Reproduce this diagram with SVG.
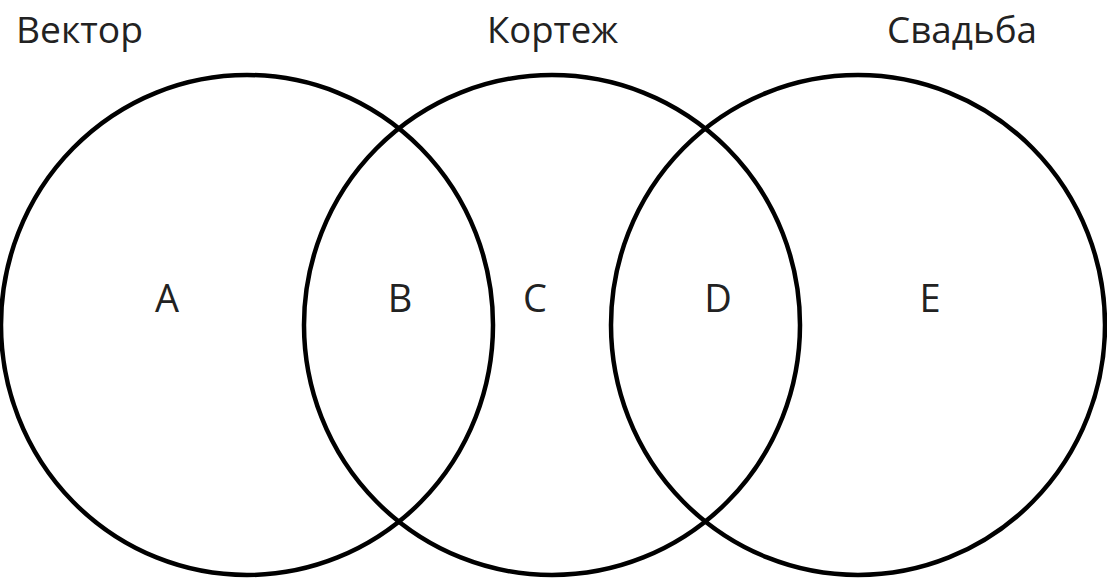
<svg xmlns="http://www.w3.org/2000/svg" width="1107" height="578" viewBox="0 0 1107 578">
  <style>
    .set { fill: none; stroke: #000; stroke-width: 4.5; }
    .title { font-family: "Open Sans", "Liberation Sans", sans-serif; font-size: 37px; fill: #222; }
    .region { font-family: "Open Sans", "Liberation Sans", sans-serif; font-size: 38px; fill: #222; text-anchor: middle; }
  </style>
  <rect width="1107" height="578" fill="#fff"/>

  <!-- three overlapping sets -->
  <g id="set-vector">
    <ellipse class="set" cx="247" cy="325" rx="246" ry="250"/>
    <text class="title" x="16" y="43" textLength="127" lengthAdjust="spacingAndGlyphs">Вектор</text>
  </g>
  <g id="set-kortezh">
    <ellipse class="set" cx="552" cy="325" rx="248" ry="250"/>
    <text class="title" x="487" y="43" textLength="131" lengthAdjust="spacingAndGlyphs">Кортеж</text>
  </g>
  <g id="set-svadba">
    <ellipse class="set" cx="858" cy="325" rx="247" ry="250"/>
    <text class="title" x="887" y="43" textLength="150" lengthAdjust="spacingAndGlyphs">Свадьба</text>
  </g>

  <!-- region labels -->
  <g id="regions">
    <text class="region" x="167" y="312">A</text>
    <text class="region" x="400" y="312">B</text>
    <text class="region" x="535" y="312">C</text>
    <text class="region" x="718" y="312">D</text>
    <text class="region" x="930" y="312">E</text>
  </g>
</svg>
